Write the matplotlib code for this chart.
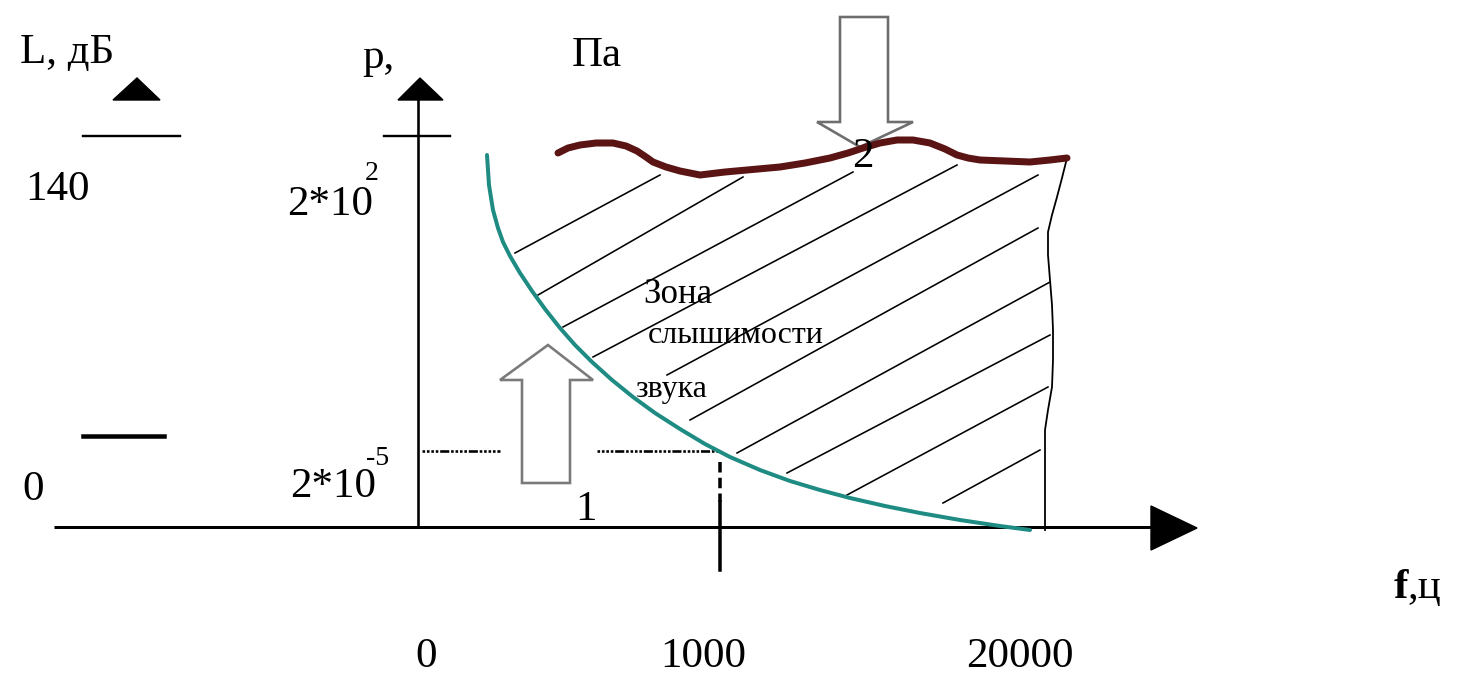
import matplotlib
matplotlib.use("Agg")
import matplotlib.pyplot as plt
from matplotlib.patches import Polygon
import numpy as np

# ---- diagram data (schematic units; y grows downward) ----
# hearing threshold curve (1)
thr_x = [487, 489, 493, 498, 503, 510, 520, 532, 545, 560, 575, 592, 612, 633, 655, 680,
         705, 730, 760, 790, 820, 850, 885, 920, 960, 1000, 1030]
thr_y = [155, 185, 210, 228, 242, 256, 273, 291, 309, 328, 345, 362, 380, 397, 413, 429,
         444, 457, 470, 481, 490, 498, 506, 513, 520, 526, 530]
# pain threshold curve (2)
pain_x = [558, 568, 580, 596, 613, 626, 637, 646, 653, 666, 680, 700, 725, 747, 780, 805,
          830, 848, 863, 880, 897, 913, 930, 945, 957, 968, 980, 1005, 1030, 1050, 1067]
pain_y = [153, 148, 145, 143, 143, 146, 151, 157, 162, 167, 171, 175, 172, 170, 167, 163,
          158, 153, 148, 143, 140, 140, 143, 149, 155, 158, 160, 161, 162, 160, 158]
# upper frequency limit boundary
lim_x = [1067, 1062, 1057, 1052, 1048, 1048, 1050, 1052, 1053, 1053, 1052, 1048, 1045, 1045, 1045]
lim_y = [158, 178, 197, 215, 232, 255, 280, 305, 330, 360, 387, 410, 430, 470, 530]
# hatch segments of the audible zone
hatch_x0 = [515, 538, 563, 593, 667, 690, 737, 787, 847, 943]
hatch_y0 = [253, 295, 327, 357, 375, 420, 453, 473, 495, 503]
hatch_x1 = [660, 743, 853, 957, 1038, 1038, 1050, 1050, 1048, 1040]
hatch_y1 = [175, 177, 172, 165, 175, 228, 282, 335, 387, 450]

# axis tick labels
f_ticks = ["0", "1000", "20000"]
f_tick_x = [415, 660, 966]
L_labels = ["140", "0"]
p_labels = ["2*10", "2*10"]
p_exps = ["2", "-5"]

# arrows
arrow1_x = [548, 593, 570, 570, 522, 522, 500]
arrow1_y = [345, 380, 380, 483, 483, 380, 380]
arrow2_x = [840, 888, 888, 913, 860, 817, 840]
arrow2_y = [17, 17, 122, 122, 147, 122, 122]

fig = plt.figure(figsize=(14.62, 6.78), dpi=100)
ax = fig.add_axes([0, 0, 1, 1])
ax.set_xlim(0, 1462)
ax.set_ylim(678, 0)
ax.axis("off")

FONT = "Liberation Serif"
k = 0.72  # px -> pt

# main horizontal axis
ax.plot([54, 1155], [527, 527], color="black", lw=3 * k, solid_capstyle="butt")
ax.add_patch(Polygon([[1151, 506], [1197, 528], [1151, 550]], closed=True, color="black"))
# vertical p axis
ax.plot([418, 418], [527, 95], color="black", lw=2.6 * k)
ax.add_patch(Polygon([[398, 100], [420, 78], [443, 100]], closed=True, color="black"))
ax.plot([384, 450], [136, 136], color="black", lw=2.4 * k)
# L axis marks
ax.add_patch(Polygon([[113, 100], [137, 78], [160, 100]], closed=True, color="black"))
ax.plot([83, 180], [136, 136], color="black", lw=2.4 * k)
ax.plot([83, 164], [436, 436], color="black", lw=4.5 * k)

# hatching
for x0, y0, x1, y1 in zip(hatch_x0, hatch_y0, hatch_x1, hatch_y1):
    ax.plot([x0, x1], [y0, y1], color="black", lw=1.6 * k)

# limit boundary
ax.plot(lim_x, lim_y, color="black", lw=1.8 * k)

# dotted reference line at 2*10^-5 and the 1000 Hz mark
dots = (0, (1, 0.7, 1, 0.7, 1, 0.7, 1, 0.7, 3.5, 0.7))
ax.plot([422, 500], [451, 451], color="black", lw=2.6 * k, linestyle=dots)
ax.plot([597, 718], [451, 451], color="black", lw=2.6 * k, linestyle=dots)
ax.plot([720, 720], [462, 502], color="black", lw=3.5 * k, linestyle=(0, (3, 1.5)))
ax.plot([720, 720], [502, 570], color="black", lw=3.5 * k)

# arrows (hollow)
ax.add_patch(Polygon(np.column_stack([arrow1_x, arrow1_y]), closed=True,
                     facecolor="white", edgecolor="#7a7a7a", lw=2.6 * k, joinstyle="miter"))
ax.add_patch(Polygon(np.column_stack([arrow2_x, arrow2_y]), closed=True,
                     facecolor="white", edgecolor="#6e6e6e", lw=2.6 * k, joinstyle="miter"))

# curves
ax.plot(thr_x, thr_y, color="#1f8c83", lw=4 * k, solid_capstyle="round", solid_joinstyle="round")
ax.plot(pain_x, pain_y, color="#5a1414", lw=7 * k, solid_capstyle="round", solid_joinstyle="round")

fs = 31
def t(x, y, s, size=fs, **kw):
    ax.text(x, y, s, fontsize=size, family=FONT, va="baseline", ha="left", **kw)

t(20, 63, "L, дБ")
t(362, 68, "р,")
t(572, 66, "Па")
t(25, 200, L_labels[0])
t(22, 500, L_labels[1])
t(287, 215, p_labels[0])
t(365, 180, p_exps[0], size=20)
t(290, 497, p_labels[1])
t(366, 465, p_exps[1], size=20)
for lab, x in zip(f_ticks, f_tick_x):
    t(x, 667, lab)
t(1394, 598, "f", weight="bold")
t(1407, 598, ",ц")
t(575, 520, "1")
t(852, 167, "2")
t(643, 303, "Зона", size=25)
t(648, 343, "слышимости", size=23)
t(635, 397, "звука", size=23)

fig.savefig("out.png", dpi=100)
